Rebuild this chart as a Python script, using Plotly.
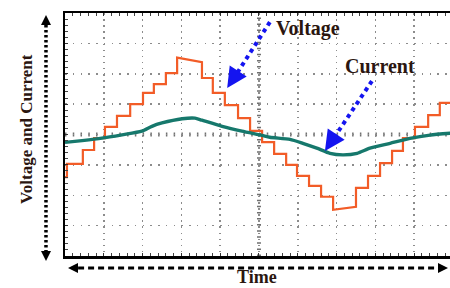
import plotly.graph_objects as go

# Units: oscilloscope divisions. Time 0..10 div (right edge cut off), amplitude -4..4 div.
# Voltage: multilevel staircase, given as step edges with level at start/end of each step
volt_edges = [0.00, 0.05, 0.46, 0.75, 1.03, 1.34, 1.68, 2.01, 2.29, 2.60, 2.89, 3.53,
              3.81, 4.12, 4.46, 4.77, 5.08, 5.39, 5.70, 5.98, 6.29, 6.60, 6.91, 7.50,
              7.81, 8.12, 8.43, 8.71, 9.02, 9.36, 9.66, 9.93]
volt_start = [-1.40, -0.97, -0.51, -0.12, 0.25, 0.61, 1.00, 1.37, 1.66, 2.02, 2.53,
              1.86, 1.37, 0.97, 0.54, 0.12, -0.25, -0.64, -1.00, -1.36, -1.69, -2.05,
              -2.48, -1.76, -1.36, -0.94, -0.54, -0.12, 0.25, 0.64, 1.04]
volt_end = [-1.40, -0.97, -0.51, -0.12, 0.25, 0.61, 1.00, 1.37, 1.66, 2.02, 2.38,
            1.86, 1.37, 0.97, 0.54, 0.12, -0.25, -0.64, -1.00, -1.36, -1.69, -2.05,
            -2.38, -1.76, -1.36, -0.94, -0.54, -0.12, 0.25, 0.64, 1.04]

# Current: smooth, small amplitude
curr_t = [0.00, 0.44, 0.95, 1.47, 1.98, 2.24, 2.50, 3.02, 3.35, 3.53, 4.05, 4.56, 5.08,
          5.28, 5.80, 6.13, 6.49, 6.83, 7.16, 7.53, 7.86, 8.38, 8.89, 9.41, 9.93]
curr_v = [-0.26, -0.20, -0.12, -0.01, 0.11, 0.27, 0.38, 0.52, 0.54, 0.47, 0.27, 0.11,
          -0.03, -0.09, -0.16, -0.29, -0.45, -0.62, -0.67, -0.62, -0.45, -0.29, -0.13,
          -0.02, 0.04]

x_range = [0, 9.923]
y_range = [-4, 4]

vt, vv = [], []
for i in range(len(volt_start)):
    vt += [volt_edges[i], volt_edges[i + 1]]
    vv += [volt_start[i], volt_end[i]]

TXT = "#2b1610"
BLUE = "#1414f0"
SERIF = "Liberation Serif"

fig = go.Figure()
fig.add_trace(go.Scatter(x=vt, y=vv, mode="lines", name="Voltage",
                         line=dict(color="#f25c27", width=2.2)))
fig.add_trace(go.Scatter(x=curr_t, y=curr_v, mode="lines", name="Current",
                         line=dict(color="#16786c", width=3.4, shape="spline", smoothing=0.6)))

grid_col = "#8c8c8c"
fig.update_xaxes(range=x_range, showticklabels=False, zeroline=False,
                 tick0=0, dtick=1, ticks="inside", ticklen=3, tickcolor="#333",
                 showgrid=True, gridcolor=grid_col, gridwidth=1.5, griddash="1.5px,4.6px",
                 showline=True, linecolor="black", linewidth=2.5, mirror="allticks",
                 minor=dict(dtick=0.2, ticks="inside", ticklen=3, tickcolor="#444", showgrid=False))
fig.update_yaxes(range=y_range, showticklabels=False, zeroline=False,
                 tick0=0, dtick=1, ticks="inside", ticklen=3, tickcolor="#333",
                 showgrid=True, gridcolor=grid_col, gridwidth=1.5, griddash="1.5px,6.26px",
                 showline=True, linecolor="black", linewidth=2.5, mirror=False,
                 minor=dict(dtick=0.2, ticks="inside", ticklen=3, tickcolor="#444", showgrid=False))

shapes = [
    # centre graticule lines with dense marks
    dict(type="line", xref="x", yref="y", x0=0, x1=x_range[1], y0=0, y1=0, layer="below",
         line=dict(color="#707070", width=4, dash="1.5px,6.26px")),
    dict(type="line", xref="x", yref="y", x0=5, x1=5, y0=-4, y1=4, layer="below",
         line=dict(color="#707070", width=4, dash="1.5px,4.58px")),
    # vertical dotted axis arrow
    dict(type="line", xref="paper", yref="paper", x0=-0.0494, x1=-0.0494, y0=0.951, y1=0.021,
         line=dict(color="black", width=3.5, dash="2.5px,2.5px")),
    # horizontal dashed time arrow
    dict(type="line", xref="paper", yref="paper", x0=0.034, x1=0.969, y0=-0.0494, y1=-0.0494,
         line=dict(color="black", width=3, dash="6px,4px")),
    # blue dotted pointer lines
    dict(type="line", xref="x", yref="y", x0=5.28, y0=3.70, x1=4.45, y1=2.05,
         line=dict(color=BLUE, width=4, dash="4px,4px")),
    dict(type="line", xref="x", yref="y", x0=7.91, y0=1.76, x1=6.98, y1=-0.02,
         line=dict(color=BLUE, width=4, dash="4px,4px")),
]

def txt(s, x, y, size, angle=0):
    return dict(text="<b>%s</b>" % s, xref="paper", yref="paper", x=x, y=y,
                xanchor="center", yanchor="middle", textangle=angle, showarrow=False,
                font=dict(family=SERIF, size=size, color=TXT))

def head(x, y, ax, ay, ref, color, width, size):
    return dict(text="", xref=ref[0], yref=ref[1], x=x, y=y, ax=ax, ay=ay, showarrow=True,
                arrowhead=2, arrowsize=size, arrowwidth=width, arrowcolor=color)

annotations = [
    txt("Voltage", 0.631, 0.938, 20),
    txt("Current", 0.818, 0.782, 20),
    txt("Time", 0.499, -0.088, 18),
    txt("Voltage and Current", -0.0987, 0.523, 17, -90),
    # blue arrowheads
    head(4.18, 1.53, 9.8, -15.1, ("x", "y"), BLUE, 3, 1.35),
    head(6.70, -0.54, 10.0, -15.0, ("x", "y"), BLUE, 3, 1.35),
    # black arrowheads
    head(-0.0494, 0.992, 0, 10, ("paper", "paper"), "black", 2, 1),
    head(-0.0494, -0.0206, 0, -10, ("paper", "paper"), "black", 2, 1),
    head(0.0078, -0.0494, 10, 0, ("paper", "paper"), "black", 2, 1),
    head(0.9948, -0.0494, -10, 0, ("paper", "paper"), "black", 2, 1),
]

fig.update_layout(width=450, height=288, margin=dict(l=65, r=0, t=13, b=32),
                  paper_bgcolor="white", plot_bgcolor="white", showlegend=False,
                  hovermode=False, shapes=shapes, annotations=annotations)
fig.write_html("out.html", config={"displayModeBar": False, "staticPlot": True},
               post_script="document.body.style.margin='0';document.body.style.overflow='hidden';")
